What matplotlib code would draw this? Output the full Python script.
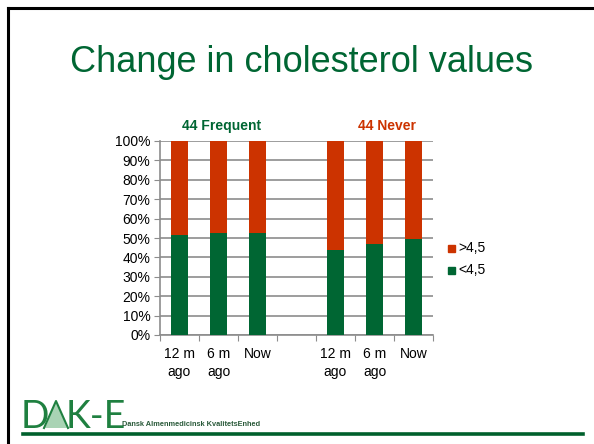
import matplotlib
matplotlib.use("Agg")
import matplotlib.pyplot as plt
from matplotlib.patches import Polygon, Rectangle
from matplotlib.lines import Line2D

plt.rcParams['font.family'] = ['Liberation Sans', 'DejaVu Sans']

# data (percent of patients)
categories = ["12 m\nago", "6 m\nago", "Now", "", "12 m\nago", "6 m\nago", "Now"]
below_45 = [51.5, 52.7, 52.7, 0, 44.0, 47.0, 49.6]
above_45 = [100 - v if v else 0 for v in below_45]
y_ticks = list(range(0, 101, 10))

GREEN = "#006633"
RED = "#CC3300"
GRID = "#8c8c8c"
LOGO = "#1f8040"

W, H = 594, 444
fig = plt.figure(figsize=(W / 100, H / 100), dpi=100)

def fx(px):
    return px / W

def fy(py):
    return 1 - py / H

# slide frame
fig.add_artist(Line2D([fx(8), fx(8)], [fy(8), fy(444)], color="black", lw=2.2))
fig.add_artist(Line2D([fx(8), fx(594)], [fy(8), fy(8)], color="black", lw=2.2))
fig.add_artist(Line2D([fx(23), fx(583)], [fy(434), fy(434)], color="#00602c", lw=2.6))

fig.text(0.508, fy(63), "Change in cholesterol values", ha="center", va="center",
         fontsize=26, color=GREEN)

ax = fig.add_axes([fx(160), fy(335), fx(433) - fx(160), fy(141) - fy(335)])
x = range(len(categories))
bars_x = [i for i in x if below_45[i] > 0]
ax.bar(bars_x, [below_45[i] for i in bars_x], width=0.42, color=GREEN, zorder=3)
ax.bar(bars_x, [above_45[i] for i in bars_x], width=0.42,
       bottom=[below_45[i] for i in bars_x], color=RED, zorder=3)

ax.set_xlim(-0.5, len(categories) - 0.5)
ax.set_ylim(0, 100)
ax.set_yticks(y_ticks)
ax.set_yticklabels([f"{t}%" for t in y_ticks], fontsize=10)
ax.yaxis.grid(True, color=GRID, lw=1.2, zorder=0)
ax.tick_params(axis="y", length=4, color=GRID, pad=3)

ax.set_xticks([i - 0.5 for i in range(len(categories) + 1)])
ax.set_xticklabels([])
ax.set_xticks(list(x), minor=True)
ax.set_xticklabels(categories, minor=True, fontsize=10, linespacing=1.3)
ax.tick_params(axis="x", which="major", length=4, color=GRID, direction="out")
ax.tick_params(axis="x", which="minor", length=0, pad=9)

for s in ["top", "right"]:
    ax.spines[s].set_visible(False)
for s in ["left", "bottom"]:
    ax.spines[s].set_color(GRID)
    ax.spines[s].set_linewidth(1.2)

fig.text(fx(222), fy(126), "44 Frequent", ha="center", va="center",
         fontsize=10, fontweight="bold", color=GREEN)
fig.text(fx(387), fy(126), "44 Never", ha="center", va="center",
         fontsize=10, fontweight="bold", color=RED)

# legend
for yy, col, lab in [(248, RED, ">4,5"), (270, GREEN, "<4,5")]:
    fig.add_artist(Rectangle((fx(448), fy(yy + 4)), fx(7), fy(0) - fy(7),
                             color=col, transform=fig.transFigure))
    fig.text(fx(458), fy(yy), lab, ha="left", va="center", fontsize=10)

# logo: D, triangle "A", K-E
fig.add_artist(Polygon([[fx(45), fy(428)], [fx(56), fy(401)], [fx(67), fy(428)]],
                       closed=True, facecolor="#a9d3b4", edgecolor="none",
                       transform=fig.transFigure))
fig.add_artist(Line2D([fx(44), fx(56), fx(68)], [fy(428), fy(401), fy(428)],
                      color=LOGO, lw=1.5))
fig.text(fx(21), fy(428), "D", ha="left", va="baseline", fontsize=27,
         color=LOGO, family="Lato")
fig.text(fx(66), fy(428), "K-E", ha="left", va="baseline", fontsize=27,
         color=LOGO, family="Lato")
fig.text(fx(122), fy(424), "Dansk Almenmedicinsk KvalitetsEnhed", ha="left",
         va="center", fontsize=5.3, fontweight="bold", color="#2a5a3a")

fig.savefig("out.png", dpi=100)
